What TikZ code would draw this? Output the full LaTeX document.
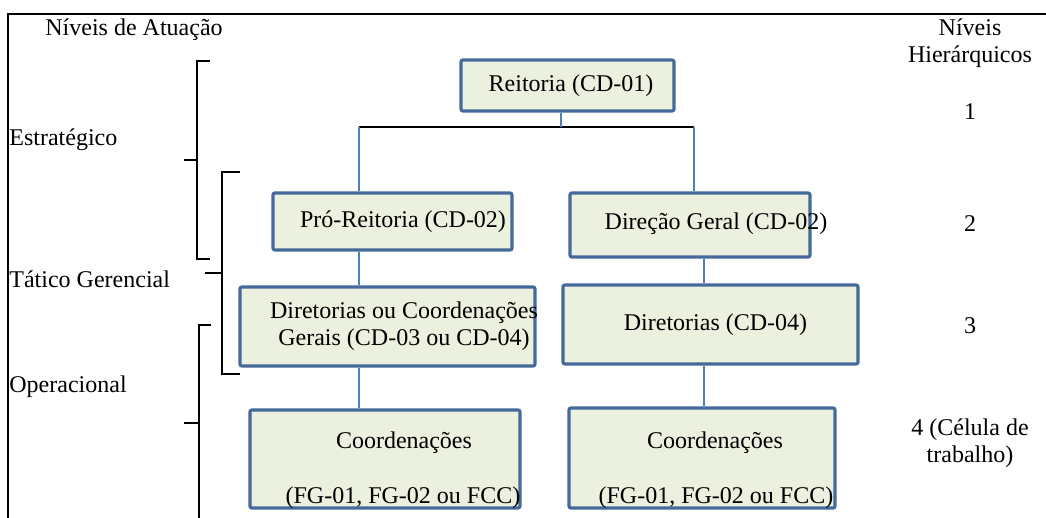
\documentclass[tikz,border=0pt]{standalone}
\usepackage{fontspec}
\setmainfont{Liberation Serif}
\usepackage{tikz}
\definecolor{boxline}{HTML}{44699A}
\definecolor{boxfill}{HTML}{EBF0DF}
\definecolor{linkblue}{HTML}{4F81BD}
\tikzset{
  unit/.style={rectangle,draw=boxline,line width=1.6pt,fill=boxfill,rounded corners=1pt},
  link/.style={draw=linkblue,line width=1pt},
  brace/.style={draw=black,line width=0.6pt}
}
\begin{document}
\begin{tikzpicture}[x=0.5pt,y=-0.5pt,inner sep=0pt,font=\fontsize{12}{13.5}\selectfont]
\useasboundingbox (0,0) rectangle (1046,518);
%Frame
\draw [line width=0.8pt] (1046,14) -- (8,14) -- (8,518);
%Node Coordinates
\node at (567.5,85.5) [unit,minimum width=106.5pt,minimum height=25.5pt] (Reitoria) {};
\node at (392.5,221.5) [unit,minimum width=119.5pt,minimum height=28.5pt] (ProReitoria) {};
\node at (690,225) [unit,minimum width=120pt,minimum height=32pt] (Direcao) {};
\node at (387.5,326.5) [unit,minimum width=147.5pt,minimum height=39.5pt] (DirCoord) {};
\node at (710.5,324.5) [unit,minimum width=147.5pt,minimum height=39.5pt] (Diretorias) {};
\node at (385,459) [unit,minimum width=135pt,minimum height=49pt] (CoordL) {};
\node at (702,458) [unit,minimum width=133pt,minimum height=50pt] (CoordR) {};
\coordinate (BusL) at (359,127);
\coordinate (BusM) at (561,127);
\coordinate (BusR) at (694,127);
\coordinate (ColR) at (704,127);
%Node Labels
\node at (571,86) (ReitoriaTxt) {Reitoria (CD-01)};
\node at (403,222) (ProReitoriaTxt) {Pró-Reitoria (CD-02)};
\node at (716,224) (DirecaoTxt) {Direção Geral (CD-02)};
\node at (404,326.5) [align=center] (DirCoordTxt) {Diretorias ou Coordenações\\Gerais (CD-03 ou CD-04)};
\node at (715.5,325) (DiretoriasTxt) {Diretorias (CD-04)};
\node at (404,443) (CoordLTxt) {Coordenações};
\node at (403,498) (CoordLFun) {(FG-01, FG-02 ou FCC)};
\node at (715,443) (CoordRTxt) {Coordenações};
\node at (716,498) (CoordRFun) {(FG-01, FG-02 ou FCC)};
%connections
\draw [line width=0.9pt] (BusL) -- (BusR);
\draw [link] (BusM |- Reitoria.south) -- (BusM);
\draw [link] (BusL) -- (BusL |- ProReitoria.north);
\draw [link] (BusR) -- (BusR |- Direcao.north);
\draw [link] (BusL |- ProReitoria.south) -- (BusL |- DirCoord.north);
\draw [link] (BusL |- DirCoord.south) -- (BusL |- CoordL.north);
\draw [link] (ColR |- Direcao.south) -- (ColR |- Diretorias.north);
\draw [link] (ColR |- Diretorias.south) -- (ColR |- CoordR.north);
%Levels of action
\node at (45,30) [anchor=west] (Atuacao) {Níveis de Atuação};
\node at (9,140) [anchor=west] (Estrategico) {Estratégico};
\node at (9,279) [anchor=west] (Tatico) {Tático Gerencial};
\node at (9,387) [anchor=west] (Operacional) {Operacional};
\draw [brace] (210,61) -- (197,61) -- (197,259) -- (210,259);
\draw [brace] (197,160) -- (184,160);
\draw [brace] (240,172) -- (222,172) -- (222,374) -- (240,374);
\draw [brace] (222,273) -- (205,273);
\draw [brace] (211,325) -- (199,325) -- (199,518);
\draw [brace] (199,423) -- (184,423);
%Hierarchy levels
\node at (970,43.5) [align=center] (Hierarquia) {Níveis\\Hierárquicos};
\node at (970,112) (Nivel1) {1};
\node at (970,224) (Nivel2) {2};
\node at (970,326) (Nivel3) {3};
\node at (970,443.5) [align=center] (Nivel4) {4 (Célula de\\trabalho)};
\end{tikzpicture}
\end{document}
